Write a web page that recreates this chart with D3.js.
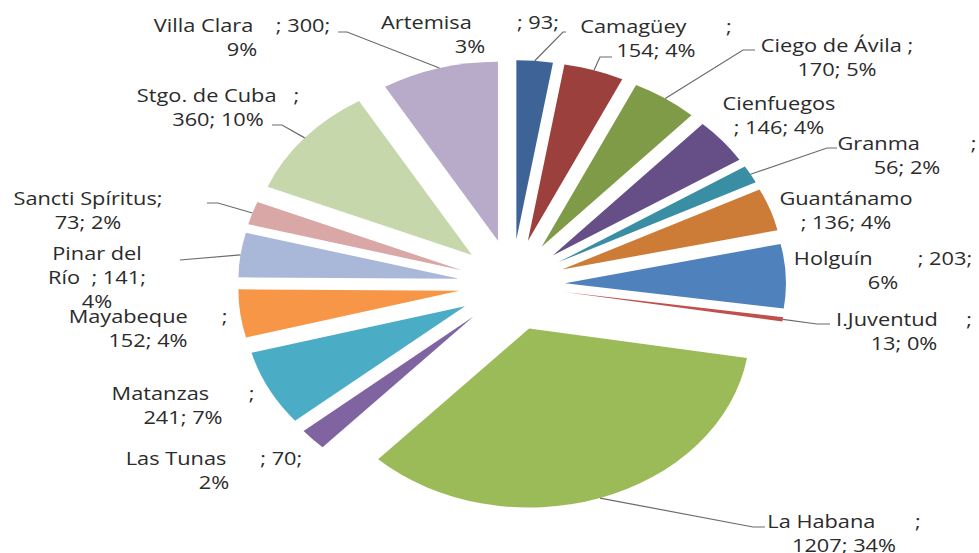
<!DOCTYPE html>
<html>
<head>
<meta charset="utf-8">
<script src="https://cdn.jsdelivr.net/npm/d3@7"></script>
<style>
body{margin:0;background:#fff;}
</style>
</head>
<body>
<div id="chart"></div>
<script>
// regions, counted values and slice colours (clockwise from 12 o'clock)
var regions = ["Artemisa","Camagüey","Ciego de Ávila","Cienfuegos","Granma","Guantánamo","Holguín","I.Juventud",
	"La Habana","Las Tunas","Matanzas","Mayabeque","Pinar del Río","Sancti Spíritus","Stgo. de Cuba","Villa Clara"];
var counts = [93,154,170,146,56,136,203,13,1207,70,241,152,141,73,360,300];
var colors = ["#3e6497","#9c403d","#7f9b48","#664f86","#3a8ea3","#cd7c38","#4f81bd","#c0504d",
	"#9bbb59","#8064a2","#4bacc6","#f79646","#a9b8d8","#d9a7a6","#c5d7ab","#b7abc9"];

// label text: {n} name, {v} value, {p} percent, | line break
var labelFmt = [
	"{n}        ; {v};|{p}%",
	"{n}       ;|{v}; {p}%",
	"{n} ;|{v}; {p}%",
	"{n}|; {v}; {p}%",
	"{n}         ;|{v}; {p}%",
	"{n}|; {v}; {p}%",
	"{n}        ; {v};|{p}%",
	"{n}     ;|{v}; {p}%",
	"{n}       ;|{v}; {p}%",
	"{n}      ; {v};|{p}%",
	"{n}       ;|{v}; {p}%",
	"{n}      ;|{v}; {p}%",
	"Pinar del|Río  ; {v};|{p}%",
	"{n};|{v}; {p}%",
	"{n}   ;|{v}; {p}%",
	"{n}    ; {v};|{p}%"
];
// label centre x and first baseline
var labelPos = [[470,29],[656,33],[837,52],[779,110],[907,150],[846,205],[883,265],[904,326],
	[844,528],[214,465],[183,400],[148,323],[97,260],[88,205],[218,102],[242,32]];
// leader lines: start x, elbow x, y  (end is on the slice)
var leaders = [[566,563,32],[612,600,57],[755,743,50],null,[837,827,148],null,null,[830,817,324],
	[765,753,527],null,null,null,[180,180,260],[207,218,203],[272,282,125],[338,347,32]];

var w = 979, h = 553;
var cx = 512, cy = 285, rx = 221, ry = 179, ex = 53, ey = 46;
var total = d3.sum(counts);

var svg = d3.select("#chart").append("svg")
	.attr("width", w)
	.attr("height", h);

var pie = d3.pie().sort(null).value(function(d){ return d; });
var arc = d3.arc().innerRadius(0).outerRadius(ry);
var arcs = pie(counts);

function mid(d){ return (d.startAngle + d.endAngle) / 2; }

svg.selectAll(".slice")
	.data(arcs)
	.enter().append("path")
	.attr("class", "slice")
	.attr("transform", function(d){
		var a = mid(d);
		return "translate(" + (cx + ex * Math.sin(a)) + "," + (cy - ey * Math.cos(a)) + ") scale(" + (rx / ry) + ",1)";
	})
	.attr("d", arc)
	.style("fill", function(d, i){ return colors[i]; });

// leader lines
svg.selectAll(".leader")
	.data(arcs.filter(function(d, i){ return leaders[i]; }))
	.enter().append("polyline")
	.attr("class", "leader")
	.attr("points", function(d){
		var L = leaders[d.index], a = mid(d);
		var px = cx + (ex + rx) * Math.sin(a), py = cy - (ey + ry) * Math.cos(a);
		return [[L[0], L[2]], [L[1], L[2]], [px, py]].join(" ");
	})
	.style("fill", "none")
	.style("stroke", "#6b6b6b")
	.style("stroke-width", 1.2);

// data labels
var lab = svg.selectAll(".lab")
	.data(arcs)
	.enter().append("g")
	.attr("class", "lab")
	.attr("transform", function(d, i){ return "translate(" + labelPos[i][0] + "," + labelPos[i][1] + ") scale(1.21,1)"; })
	.append("text")
	.style("font-family", "'Open Sans', sans-serif")
	.style("font-size", "18px")
	.style("fill", "#2b2b2b")
	.style("white-space", "pre")
	.attr("text-anchor", "middle");

lab.selectAll("tspan")
	.data(function(d, i){
		var s = labelFmt[i].replace("{n}", regions[i]).replace("{v}", counts[i])
			.replace("{p}", Math.round(counts[i] / total * 100));
		return s.split("|");
	})
	.enter().append("tspan")
	.attr("x", 0)
	.attr("dy", function(d, j){ return j ? 24 : 0; })
	.text(function(d){ return d; });
</script>
</body>
</html>
